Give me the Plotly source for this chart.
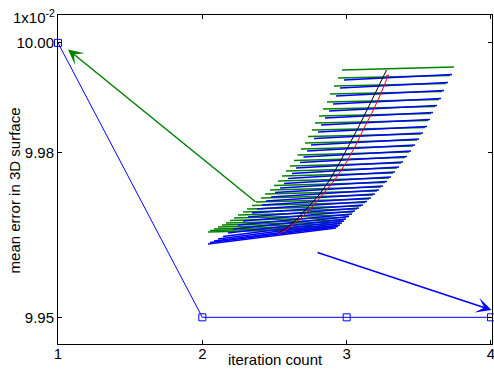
import plotly.graph_objects as go

# ---------------- main series (values in units of 1e-2) ----------------
iterations = [1, 2, 3, 4]
mean_error = [10.00, 9.95, 9.95, 9.95]
x_tick_vals = [1, 2, 3, 4]
x_tick_text = ["1", "2", "3", "4"]
y_tick_vals = [9.95, 9.98, 10.00]
y_tick_text = ["9.95", "9.98", "10.00"]

# ---------------- inset "3D surface" sketch (inset coordinates) ----------------
green_left_x = [342, 338, 334, 330, 327, 323, 319, 315, 312, 308, 305, 301, 297.5, 294, 290, 286, 282, 278,
                274, 270, 265, 261, 256, 252, 247, 243, 238, 234, 230, 226, 222, 218, 214, 210, 208]
green_left_y = [70, 78, 86, 94, 102, 109, 116, 123, 130, 136.5, 143, 149, 155, 160.5, 166, 171, 176, 181,
                185.5, 190, 194, 198, 202, 205.5, 209, 212, 215, 218, 220.5, 223, 225, 227, 229, 230.5, 232]
green_right_x = [454, 450, 446, 442, 439, 435, 431, 428, 425, 421, 417, 413, 409, 405, 401, 397, 393, 389,
                 385, 381, 377, 373, 369, 365, 361, 357, 353, 349, 346, 343, 340, 337, 334, 331, 328]
green_right_y = [67, 75.5, 83.5, 91.5, 99.5, 106.5, 113.5, 120.5, 127.5, 134, 140, 146, 152, 157.5, 163, 168,
                 173, 178, 182.5, 187, 191, 195, 199, 202.5, 206, 209, 212, 215, 217.5, 220, 222, 224, 226,
                 227.5, 229]

blue_left_x = [344, 340, 336, 333, 329, 325, 321, 318, 314, 311, 307, 303.5, 300, 296, 292, 288, 284, 280,
               275, 271, 266, 262, 257, 252, 248, 243, 238, 233, 228, 223, 218, 214, 210, 208]
blue_left_y = [80, 88, 96, 104, 111, 118, 125, 132, 138.5, 145, 151, 157, 162.5, 168, 173.5, 178.5, 183.5,
               188, 192.5, 197, 201, 205, 209, 213, 217, 221, 225, 229, 233, 236.5, 239, 241, 242.5, 244]
blue_right_x = [452, 448, 444, 441, 437, 433, 430, 427, 423, 419, 415, 411, 407, 403, 399, 395, 391, 387,
                383, 379, 375, 371, 367, 363, 359, 355, 352, 349, 346, 344, 342, 340, 338, 336]
blue_right_y = [74.5, 82.5, 90.5, 98.5, 105.5, 112.5, 119.5, 126.5, 133, 139, 145, 151, 156.5, 162, 167, 172,
                177, 181.5, 186, 190, 194, 198, 201.5, 205, 208, 211, 214, 216.5, 219, 221, 223, 225, 226.5,
                228]

black_curve_x = [386.5, 377, 367, 358, 350, 340, 329, 319, 308, 298, 288, 280]
black_curve_y = [70, 90, 110, 128, 143, 162, 181, 195, 207, 218, 227, 232]
red_curve_x = [386, 388.5, 381, 373, 364, 357, 346, 334, 324, 312, 301, 290, 279]
red_curve_y = [76, 75, 93, 111, 128, 143, 163, 181, 193, 207, 218, 227, 234]

# arrows: (tail -> head) in inset coordinates
green_arrow_tail = [257, 203]
green_arrow_head = [68, 49.5]
blue_arrow_tail = [316, 252]
blue_arrow_head = [491.5, 310]

GREEN = "#008000"
BLUE = "#0000ff"
FONT = "Liberation Sans, Arial, Helvetica, sans-serif"


def segments(lx, ly, rx, ry):
    xs, ys = [], []
    for a, b, c, d in zip(lx, ly, rx, ry):
        xs += [a, c, None]
        ys += [b, d, None]
    return xs, ys


fig = go.Figure()

fig.add_trace(go.Scatter(
    x=iterations, y=mean_error, mode="lines+markers",
    line=dict(color=BLUE, width=1),
    marker=dict(symbol="square-open", size=7, color=BLUE, line=dict(width=1, color=BLUE)),
    cliponaxis=False, showlegend=False,
))

gx, gy = segments(green_left_x, green_left_y, green_right_x, green_right_y)
bx, by = segments(blue_left_x, blue_left_y, blue_right_x, blue_right_y)

fig.add_trace(go.Scatter(x=gx, y=gy, mode="lines", line=dict(color=GREEN, width=1.3),
                         xaxis="x2", yaxis="y2", hoverinfo="skip", showlegend=False))
fig.add_trace(go.Scatter(x=bx, y=by, mode="lines", line=dict(color=BLUE, width=1.3),
                         xaxis="x2", yaxis="y2", hoverinfo="skip", showlegend=False))
fig.add_trace(go.Scatter(x=black_curve_x, y=black_curve_y, mode="lines", line=dict(color="black", width=1),
                         xaxis="x2", yaxis="y2", hoverinfo="skip", showlegend=False))
fig.add_trace(go.Scatter(x=red_curve_x, y=red_curve_y, mode="lines", line=dict(color="red", width=1),
                         xaxis="x2", yaxis="y2", hoverinfo="skip", showlegend=False))

axis_common = dict(
    showline=True, linecolor="black", linewidth=1, mirror="allticks",
    ticks="inside", ticklen=4, tickcolor="black", tickwidth=1,
    showgrid=False, zeroline=False, ticklabeloverflow="allow",
    tickfont=dict(family=FONT, size=15, color="black"),
)

fig.update_layout(
    template="none",
    width=494, height=370,
    margin=dict(l=58, r=2, t=15, b=26),
    paper_bgcolor="white", plot_bgcolor="rgba(0,0,0,0)",
    xaxis=dict(range=[1, 4.007], tickvals=x_tick_vals, ticktext=x_tick_text, domain=[0, 1], anchor="y",
               ticklabelstandoff=-4, **axis_common),
    yaxis=dict(range=[9.94514, 10.00508], tickvals=y_tick_vals, ticktext=y_tick_text, domain=[0, 1],
               anchor="x", **axis_common),
    xaxis2=dict(domain=[0, 1], anchor="y2", range=[58, 492], visible=False, fixedrange=True),
    yaxis2=dict(domain=[0, 1], anchor="x2", range=[344, 15], visible=False, fixedrange=True),
    font=dict(family=FONT, size=15, color="black"),
    showlegend=False,
    annotations=[
        dict(x=green_arrow_head[0], y=green_arrow_head[1], ax=green_arrow_tail[0], ay=green_arrow_tail[1],
             xref="x2", yref="y2", axref="x2", ayref="y2", text="", showarrow=True,
             arrowhead=3, arrowsize=1.7, arrowwidth=1.5, arrowcolor=GREEN),
        dict(x=blue_arrow_head[0], y=blue_arrow_head[1], ax=blue_arrow_tail[0], ay=blue_arrow_tail[1],
             xref="x2", yref="y2", axref="x2", ayref="y2", text="", showarrow=True,
             arrowhead=3, arrowsize=1.7, arrowwidth=1.5, arrowcolor=BLUE),
        dict(text="iteration count", xref="paper", yref="paper", x=0.5, y=-0.048,
             xanchor="center", yanchor="middle", showarrow=False,
             font=dict(family=FONT, size=15, color="black")),
        dict(text="mean error in 3D surface", xref="paper", yref="paper", x=-0.1005, y=0.468,
             xanchor="center", yanchor="middle", textangle=-90, showarrow=False,
             font=dict(family=FONT, size=15, color="black")),
        dict(text="1x10<sup>-2</sup>", xref="paper", yref="paper", x=-0.108, y=0.995,
             xanchor="left", yanchor="middle", showarrow=False,
             font=dict(family=FONT, size=15, color="black")),
    ],
)

fig.write_html("out.html", config={"displayModeBar": False},
               post_script="document.body.style.margin='0';document.body.style.overflow='hidden';")
